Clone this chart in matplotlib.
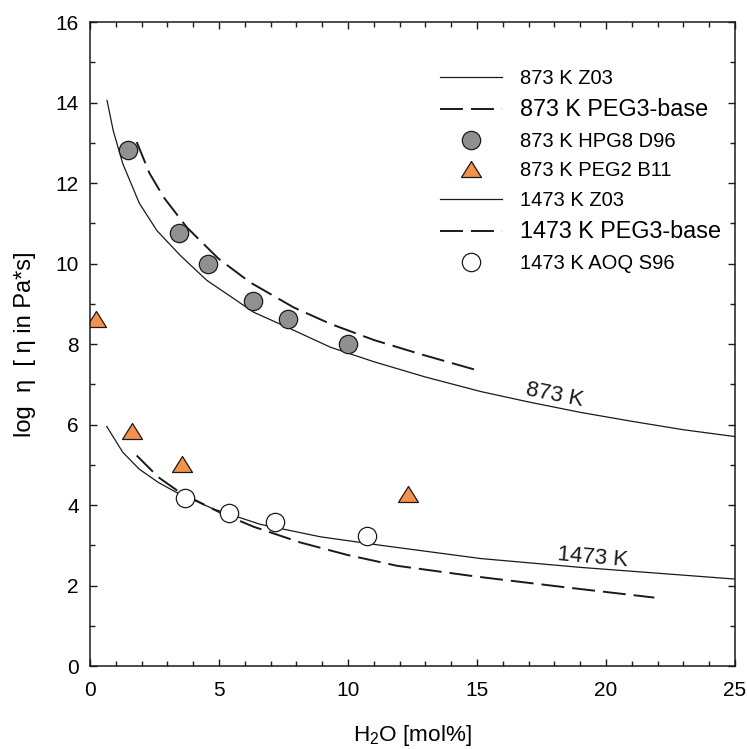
import numpy as np
import matplotlib
matplotlib.use("Agg")
import matplotlib.pyplot as plt
from matplotlib.ticker import MultipleLocator

plt.rcParams['font.family'] = ['Liberation Sans', 'DejaVu Sans']
plt.rcParams['mathtext.default'] = 'regular'

# ---- data ----
# 873 K, Z03 model curve
z873_x = [0.66, 0.9, 1.27, 1.91, 2.59, 3.5, 4.53, 5.5, 6.34, 7.63, 9.32, 11.0, 13.0, 15.14, 17.0, 19.02, 21.0, 23.0, 25.0]
z873_y = [14.05, 13.3, 12.48, 11.5, 10.82, 10.2, 9.58, 9.16, 8.79, 8.42, 7.92, 7.56, 7.18, 6.82, 6.56, 6.30, 6.08, 5.87, 5.70]
# 873 K, PEG3-base curve
p873_x = [1.81, 2.3, 2.85, 3.75, 4.98, 6.21, 7.89, 9.32, 11.0, 12.8, 14.88]
p873_y = [13.02, 12.25, 11.65, 10.9, 10.12, 9.53, 8.91, 8.5, 8.1, 7.75, 7.37]
# 873 K HPG8 D96
hpg8_x = [1.48, 3.45, 4.58, 6.33, 7.69, 9.98]
hpg8_y = [12.81, 10.75, 10.0, 9.08, 8.63, 8.01]
# 873 K PEG2 B11
peg2_x = [0.23, 1.64, 3.56, 12.33]
peg2_y = [8.62, 5.85, 5.02, 4.27]
# 1473 K, Z03 model curve
z1473_x = [0.65, 1.27, 1.91, 2.65, 3.36, 4.79, 6.6, 8.93, 11.26, 15.14, 19.02, 25.0]
z1473_y = [5.95, 5.31, 4.89, 4.56, 4.31, 3.90, 3.52, 3.21, 3.00, 2.67, 2.45, 2.16]
# 1473 K, PEG3-base curve
p1473_x = [1.81, 2.65, 3.49, 5.05, 6.34, 8.15, 9.97, 11.9, 15.0, 18.5, 21.87]
p1473_y = [5.23, 4.69, 4.31, 3.81, 3.46, 3.07, 2.76, 2.49, 2.22, 1.95, 1.70]
# 1473 K AOQ S96
aoq_x = [3.70, 5.38, 7.16, 10.74]
aoq_y = [4.18, 3.81, 3.58, 3.23]

fig = plt.figure(figsize=(7.47, 7.49), dpi=100)
ax = fig.add_axes([0.1205, 0.1108, 0.8635, 0.8598])

tri = [(0, 0.8), (-1, -0.8), (1, -0.8), (0, 0.8)]
dash = (11.8, 4.1)

ax.plot(z873_x, z873_y, color='#1a1a1a', lw=0.9, label='873 K Z03')
ax.plot(p873_x, p873_y, color='#1a1a1a', lw=1.4, dashes=dash, label='873 K PEG3-base')
ax.plot(hpg8_x, hpg8_y, 'o', ms=13.2, mfc='#8e9092', mec='#1a1a1a', mew=0.9,
        label='873 K HPG8 D96')
ax.plot(peg2_x, peg2_y, ls='none', marker=tri, ms=14.4, mfc='#f5924a', mec='#1a1a1a',
        mew=0.9, label='873 K PEG2 B11')
ax.plot(z1473_x, z1473_y, color='#1a1a1a', lw=0.9, label='1473 K Z03')
ax.plot(p1473_x, p1473_y, color='#1a1a1a', lw=1.4, dashes=dash, label='1473 K PEG3-base')
ax.plot(aoq_x, aoq_y, 'o', ms=13.2, mfc='white', mec='#1a1a1a', mew=0.9,
        label='1473 K AOQ S96')

ax.text(18.0, 6.72, '873 K', fontsize=16, rotation=-11, ha='center', va='center',
        color='#1a1a1a')
ax.text(19.47, 2.69, '1473 K', fontsize=16, rotation=-5, ha='center', va='center',
        color='#1a1a1a')

ax.set_xlim(0, 25)
ax.set_ylim(0, 16)
ax.xaxis.set_major_locator(MultipleLocator(5))
ax.xaxis.set_minor_locator(MultipleLocator(1))
ax.yaxis.set_major_locator(MultipleLocator(2))
ax.yaxis.set_minor_locator(MultipleLocator(1))
ax.tick_params(which='both', direction='in', top=True, right=True, width=1.0,
               color='#1a1a1a')
ax.tick_params(which='major', length=5, labelsize=15)
ax.tick_params(axis='x', which='major', pad=11)
ax.tick_params(axis='y', which='major', pad=8)
ax.tick_params(which='minor', length=3.5)
for s in ax.spines.values():
    s.set_linewidth(1.1)
    s.set_color('#1a1a1a')

ax.set_xlabel('H$_2$O [mol%]', fontsize=16.2, labelpad=16)
ax.set_ylabel('log  \u03b7  [ \u03b7 in Pa*s]', fontsize=17, labelpad=14)

leg = ax.legend(loc='upper left', bbox_to_anchor=(0.53, 0.94), frameon=False,
                handlelength=3.1, handletextpad=0.9, labelspacing=0.52,
                fontsize=14.5, borderaxespad=0)
for t in leg.get_texts():
    if 'PEG3' in t.get_text():
        t.set_fontsize(16.8)

fig.savefig('out.png', dpi=100)
